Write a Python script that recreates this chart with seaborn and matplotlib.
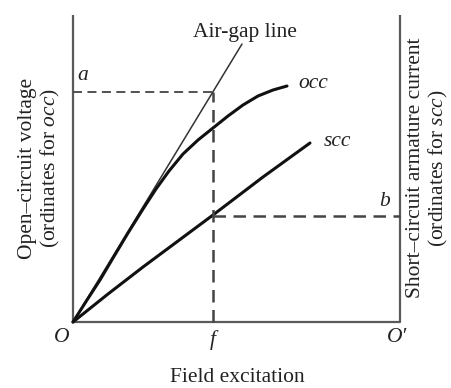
import matplotlib
matplotlib.use("Agg")
import matplotlib.pyplot as plt
import seaborn as sns

sns.set_theme(style="white")
plt.rcParams['font.family'] = ['Liberation Serif', 'DejaVu Serif']
plt.rcParams['mathtext.fontset'] = 'custom'
plt.rcParams['mathtext.rm'] = 'Liberation Serif'
plt.rcParams['mathtext.it'] = 'Liberation Serif:italic'

# data (x: field excitation, y: ordinate), origin at O
airgap_x = [0, 169]
airgap_y = [0, 278]
occ_x = [0, 14, 27, 40, 55, 70, 83, 96, 110, 125, 140, 155, 170, 185, 200, 214]
occ_y = [0, 22, 42, 64, 89, 113, 133, 151, 168, 182, 194, 206, 217, 226, 232, 236]
scc_x = [0, 35, 70, 105, 140, 190, 237]
scc_y = [0, 28, 55, 81, 107, 145, 179]
f_x = 140
b_y = 106
axis_right = 327
axis_top = 307

fig = plt.figure(figsize=(4.51, 3.88), dpi=100)
ax = fig.add_axes([0, 0, 1, 1])
ax.set_xlim(-73, 378)
ax.set_ylim(-66, 322)
ax.axis("off")

frame = "#5a5a5a"
ax.plot([0, 0], [0, axis_top], color=frame, lw=1.6, solid_capstyle="butt")
ax.plot([0, axis_right], [0, 0], color=frame, lw=1.6)
ax.plot([axis_right, axis_right], [0, axis_top], color=frame, lw=1.6, solid_capstyle="butt")

sns.lineplot(x=airgap_x, y=airgap_y, ax=ax, color="#333333", lw=1.1, sort=False)
sns.lineplot(x=occ_x, y=occ_y, ax=ax, color="#111111", lw=2.2, sort=False)
sns.lineplot(x=scc_x, y=scc_y, ax=ax, color="#111111", lw=2.2, sort=False)

a_y = airgap_y[1] / airgap_x[1] * f_x
dash = "#444444"
ax.plot([0, f_x], [a_y, a_y], color=dash, lw=1.3, ls=(0, (5, 3)))
ax.plot([f_x, f_x], [0, a_y], color=dash, lw=1.8, ls=(0, (5, 3)))
ax.plot([f_x, axis_right], [b_y, b_y], color=dash, lw=1.8, ls=(0, (5, 3)))

tc = "#222222"
fs = 15.5
ax.text(172, 290, "Air-gap line", fontsize=fs, color=tc, ha="center", va="center")
ax.text(240, 239, "occ", fontsize=fs, style="italic", color=tc, ha="center", va="center")
ax.text(264, 181, "scc", fontsize=fs, style="italic", color=tc, ha="center", va="center")
ax.text(10, 246, "a", fontsize=fs, style="italic", color=tc, ha="center", va="center")
ax.text(312, 121, "b", fontsize=fs, style="italic", color=tc, ha="center", va="center")
ax.text(-11, -16, "O", fontsize=fs, style="italic", color=tc, ha="center", va="center")
ax.text(f_x, -18, "f", fontsize=fs, style="italic", color=tc, ha="center", va="center")
ax.text(324, -16, "O′", fontsize=fs, style="italic", color=tc, ha="center", va="center")
ax.text(164, -55, "Field excitation", fontsize=fs, color=tc, ha="center", va="center")

ax.text(-33, 154, "Open–circuit voltage\n(ordinates for $occ$)", fontsize=fs,
        color=tc, rotation=90, ha="center", va="center", linespacing=1.15)
ax.text(355, 154, "Short–circuit armature current\n(ordinates for $scc$)", fontsize=fs,
        color=tc, rotation=90, ha="center", va="center", linespacing=1.1)

fig.savefig("out.png", dpi=100)
